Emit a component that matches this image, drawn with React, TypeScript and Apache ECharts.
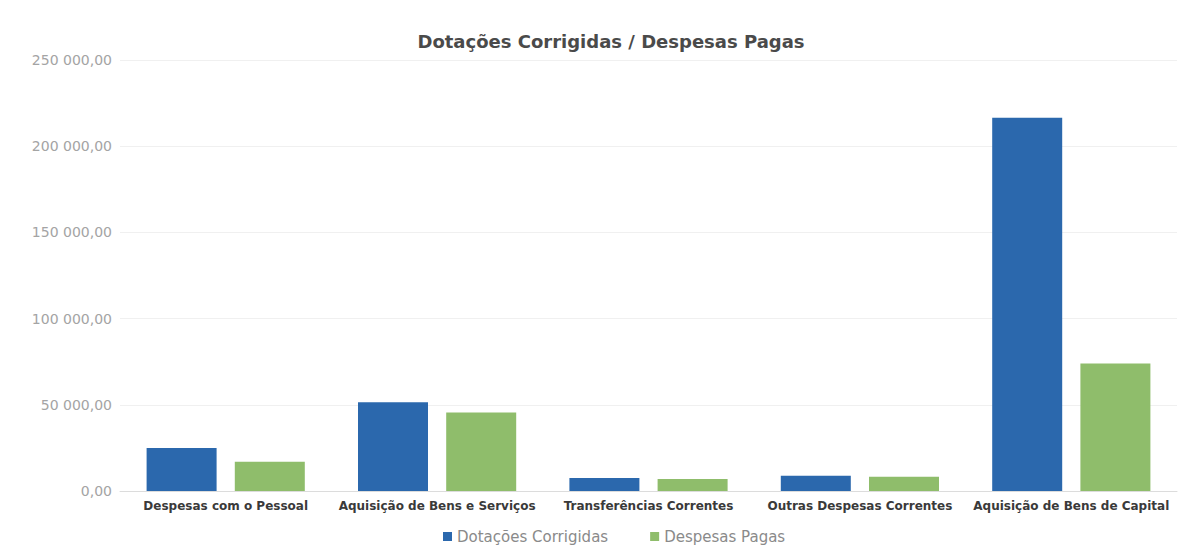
import React, { useEffect, useRef } from "react";
import * as echarts from "echarts";

const categories = [
  "Despesas com o Pessoal",
  "Aquisição de Bens e Serviços",
  "Transferências Correntes",
  "Outras Despesas Correntes",
  "Aquisição de Bens de Capital",
];
const dotacoesCorrigidas = [25000, 51500, 7500, 8800, 216500];
const despesasPagas = [17000, 45500, 7000, 8200, 74000];
const yTicks = [0, 50000, 100000, 150000, 200000, 250000];

function fmt(v: number): string {
  const s = Math.round(v).toString().replace(/\B(?=(\d{3})+(?!\d))/g, " ");
  return s + ",00";
}

export default function App() {
  const ref = useRef<HTMLDivElement>(null);
  useEffect(() => {
    document.body.style.margin = "0";
    const chart = echarts.init(ref.current!, undefined, { renderer: "svg" });
    chart.setOption({
      animation: false,
      backgroundColor: "#ffffff",
      title: {
        text: "Dotações Corrigidas / Despesas Pagas",
        left: 606,
        textAlign: "center",
        top: 27,
        textStyle: {
          fontFamily: "DejaVu Sans",
          fontWeight: "bold",
          fontSize: 18,
          color: "#4a4a4a",
        },
      },
      legend: {
        top: 524,
        left: 438,
        itemWidth: 9,
        itemHeight: 9,
        itemGap: 42,
        icon: "rect",
        textStyle: { fontFamily: "DejaVu Sans", fontSize: 15, color: "#8a8a8a" },
        data: ["Dotações Corrigidas", "Despesas Pagas"],
      },
      grid: { left: 120, right: 14, top: 60, bottom: 55 },
      xAxis: {
        type: "category",
        data: categories,
        axisTick: { show: false },
        axisLine: { lineStyle: { color: "#dcdcdc" } },
        axisLabel: {
          interval: 0,
          margin: 9,
          fontFamily: "DejaVu Sans",
          fontWeight: "bold",
          fontSize: 12,
          color: "#3a3a3a",
        },
      },
      yAxis: {
        type: "value",
        min: yTicks[0],
        max: yTicks[yTicks.length - 1],
        interval: 50000,
        axisLine: { show: false },
        axisTick: { show: false },
        splitLine: { lineStyle: { color: "#f0f0f0" } },
        axisLabel: {
          formatter: (v: number) => fmt(v),
          fontFamily: "DejaVu Sans",
          fontSize: 14,
          color: "#a4a4a4",
          margin: 8,
        },
      },
      series: [
        {
          name: "Dotações Corrigidas",
          type: "bar",
          data: dotacoesCorrigidas,
          barWidth: 70,
          barGap: "26%",
          itemStyle: { color: "#2b68ad" },
        },
        {
          name: "Despesas Pagas",
          type: "bar",
          data: despesasPagas,
          barWidth: 70,
          itemStyle: { color: "#8fbd6b" },
        },
      ],
    });
    return () => chart.dispose();
  }, []);
  return <div ref={ref} style={{ width: 1191, height: 546 }} />;
}
